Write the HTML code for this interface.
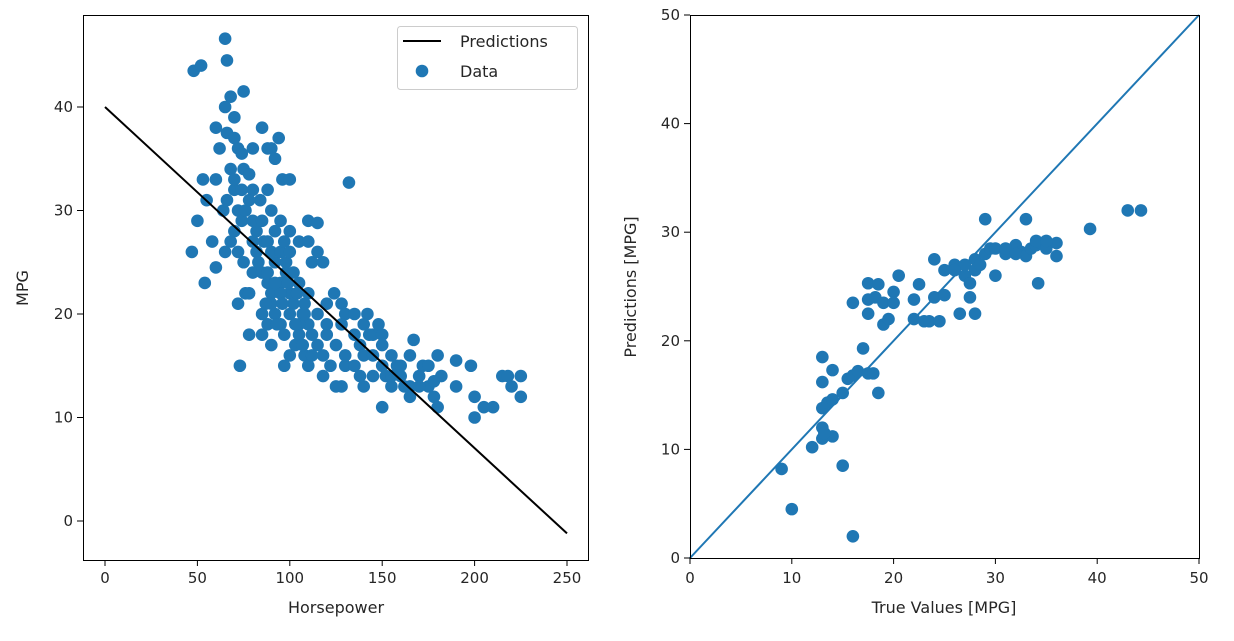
<!DOCTYPE html>
<html><head><meta charset="utf-8"><style>
body{margin:0;background:#fff;}
svg text{font-family:"DejaVu Sans","Liberation Sans",sans-serif;fill:#262626;}
</style></head><body>
<svg id="chart" width="1234" height="636" xmlns="http://www.w3.org/2000/svg">
<g id="left"></g>
<g id="right"></g>
</svg>
<script>
const hpData = [65,48,52,66,68,75,70,65,60,62,66,70,72,74,80,85,88,94,90,92,96,100,75,78,60,53,55,64,66,70,72,80,84,88,90,95,100,105,110,110,115,58,47,50,60,54,65,68,75,76,72,80,82,85,88,90,92,95,98,100,102,105,107,110,112,115,118,120,124,128,130,132,73,78,85,88,90,92,95,97,100,103,105,108,110,112,115,118,120,122,125,128,130,135,138,140,142,145,148,150,152,155,158,160,162,165,167,170,172,175,178,180,180,182,190,190,198,200,200,205,210,215,218,220,225,225,150,155,140,145,165,160,110,108,115,120,85,90,95,100,105,78,82,86,90,95,98,102,70,72,74,76,78,80,68,70,74,85,92,97,100,88,80,83,87,93,97,103,107,112,118,125,130,135,138,145,150,155,128,135,140,143,150,165,175,170,178,88,92,96,99,104,108];
const mpgData = [46.6,43.5,44,44.5,41,41.5,39,40,38,36,37.5,37,36,35.5,36,38,36,37,36,35,33,33,34,33.5,33,33,31,30,31,32,30,32,31,32,30,29,28,27,27,29,28.8,27,26,29,24.5,23,26,27,25,22,21,24,26,24,23,22,25,23,24,22,21,23,20,22,25,26,25,21,22,21,20,32.7,15,18,18,19,17,20,19,15,16,17,18,16,15,18,17,16,18,15,17,13,15,18,17,16,20,18,19,15,14,16,15,14,13,16,17.5,14,15,13,12,16,11,14,15.5,13,15,12,10,11,11,14,14,13,14,12,11,13,13,14,12,15,19,21,20,19,20,21,22,20,19,22,28,27,26,26,25,24,28,26,29,30,31,29,34,33,32,29,28,27,26,27,27,25,21,19,18,19,17,16,14,13,16,15,14,16,17,14,19,20,19,18,18,13,15,13,13.5,24,23,21,23,22,20];
const lineHp = [0,250];
const lineMpg = [40,-1.2];
const trueVals = [9,10,16,15,12,13,13,14,13.2,13,13.5,14,15,15.5,16,16.5,13,14,13,16,17,17.5,18,18.5,17.5,17.5,17.5,18.5,18.2,19,19,19.5,20,20.5,20,22,22.5,22,23,23.5,24,24,24.5,25,25,26,26.5,27,27.5,27.5,28,28,28,28.5,29,29,29.5,30,30,31,32,32.5,33,33,33.5,34,34.2,34.5,35,36,36,39.3,43,44.3,31,32,34,27,26,35];
const predVals = [8.2,4.5,2,8.5,10.2,11,12,11.2,11.5,13.8,14.3,14.6,15.2,16.5,16.8,17.2,16.2,17.3,18.5,23.5,19.3,17,17,15.2,22.5,23.8,25.3,25.2,24,23.5,21.5,22,24.5,26,23.5,23.8,25.2,22,21.8,21.8,27.5,24,21.8,26.5,24.2,27,22.5,26,24,25.3,22.5,26.5,27.5,27,28,31.2,28.5,28.5,26,28,28.8,28.2,31.2,27.8,28.5,28.8,25.3,29,28.5,29,27.8,30.3,32,32,28.5,28,29.2,27,26.5,29.2];
const leftXTicks = [0,50,100,150,200,250];
const leftYTicks = [0,10,20,30,40];
const rightTicks = [0,10,20,30,40,50];

const NS='http://www.w3.org/2000/svg';
function mk(parent,tag,attrs,text){const e=document.createElementNS(NS,tag);for(const k in attrs)e.setAttribute(k,attrs[k]);if(text!==undefined)e.textContent=text;parent.appendChild(e);return e;}
const BLUE='#1f77b4';

// left panel scales
const lx=v=>105+v*1.848, ly=v=>521-v*10.35;
const L=document.getElementById('left');
let e;
for(let i=0;i<hpData.length;i++){
  e=mk(L,'circle',{cx:lx(hpData[i]),cy:ly(mpgData[i]),r:6.3,fill:BLUE});
  
  
}
e=mk(L,'line',{x1:lx(lineHp[0]),y1:ly(lineMpg[0]),x2:lx(lineHp[1]),y2:ly(lineMpg[1]),stroke:'#000',"stroke-width":2});


e=mk(L,'rect',{x:83.5,y:15.5,width:505,height:545,fill:'none',stroke:'#000',"stroke-width":1});


leftXTicks.forEach(t=>{
  mk(L,'line',{x1:lx(t),y1:560,x2:lx(t),y2:566,stroke:'#000'});
  e=mk(L,'text',{x:lx(t),y:583,"text-anchor":'middle',"font-size":15},String(t));
  
  
});
leftYTicks.forEach(t=>{
  mk(L,'line',{x1:77,y1:ly(t),x2:83,y2:ly(t),stroke:'#000'});
  e=mk(L,'text',{x:73,y:ly(t)+5,"text-anchor":'end',"font-size":15},String(t));
  
  
});
e=mk(L,'text',{x:336,y:613,"text-anchor":'middle',"font-size":16},'Horsepower');


e=mk(L,'text',{x:28,y:288,"text-anchor":'middle',"font-size":16,transform:'rotate(-90 28 288)'},'MPG');


// legend
const G=mk(L,'g',{});


mk(G,'rect',{x:397.5,y:26.5,width:180,height:63,rx:3,fill:'#fff',"fill-opacity":0.8,stroke:'#ccc'});
mk(G,'line',{x1:403,y1:41,x2:441,y2:41,stroke:'#000',"stroke-width":2});
e=mk(G,'text',{x:460,y:47,"font-size":16},'Predictions');


mk(G,'circle',{cx:422,cy:71,r:6.3,fill:BLUE});
e=mk(G,'text',{x:460,y:77,"font-size":16},'Data');



// right panel
const rx=v=>690+v*10.18, ry=v=>558-v*10.86;
const R=document.getElementById('right');
e=mk(R,'line',{x1:rx(0),y1:ry(0),x2:rx(50),y2:ry(50),stroke:BLUE,"stroke-width":2});


for(let i=0;i<trueVals.length;i++){
  e=mk(R,'circle',{cx:rx(trueVals[i]),cy:ry(predVals[i]),r:6.3,fill:BLUE});
  
  
}
e=mk(R,'rect',{x:690.5,y:15.5,width:509,height:543,fill:'none',stroke:'#000',"stroke-width":1});


rightTicks.forEach(t=>{
  mk(R,'line',{x1:rx(t),y1:558,x2:rx(t),y2:564,stroke:'#000'});
  e=mk(R,'text',{x:rx(t),y:583,"text-anchor":'middle',"font-size":15},String(t));
  
  
  mk(R,'line',{x1:684,y1:ry(t),x2:690,y2:ry(t),stroke:'#000'});
  e=mk(R,'text',{x:680,y:ry(t)+5,"text-anchor":'end',"font-size":15},String(t));
  
  
});
e=mk(R,'text',{x:944,y:613,"text-anchor":'middle',"font-size":16},'True Values [MPG]');


e=mk(R,'text',{x:636,y:287,"text-anchor":'middle',"font-size":16,transform:'rotate(-90 636 287)'},'Predictions [MPG]');


</script>
</body></html>
